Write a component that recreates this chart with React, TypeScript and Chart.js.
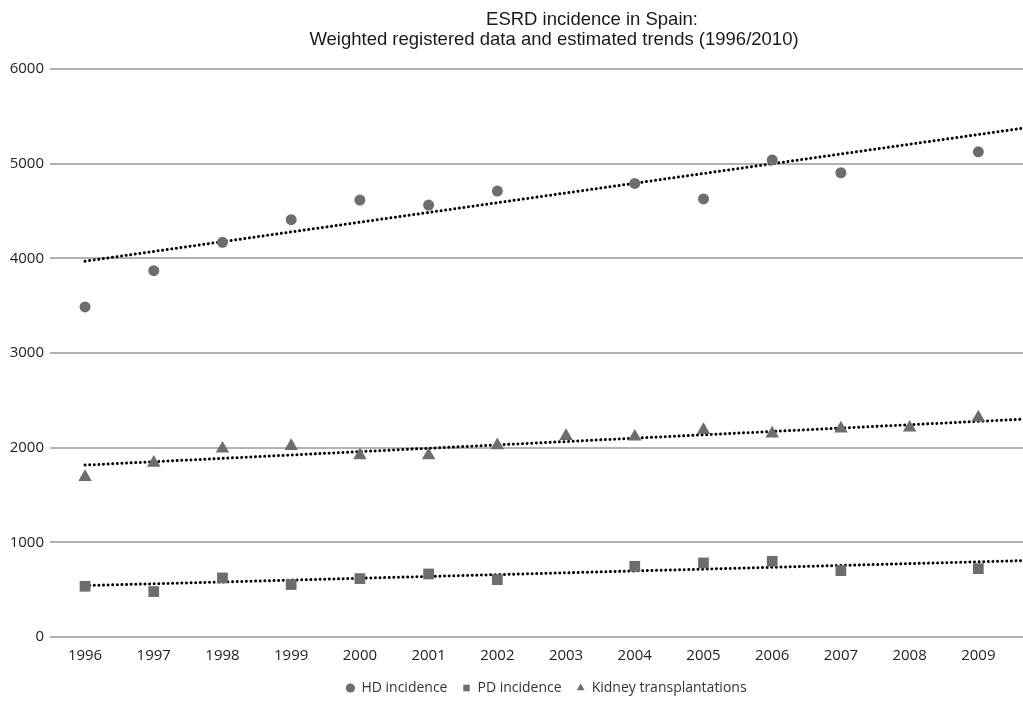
import React, { useEffect, useRef } from "react";
import { Chart, registerables } from "chart.js";

Chart.register(...registerables);

const years = [1996, 1997, 1998, 1999, 2000, 2001, 2002, 2003, 2004, 2005, 2006, 2007, 2008, 2009];
const hdIncidence = [3487, 3870, 4169, 4408, 4615, 4563, 4710, null, 4791, 4627, 5040, 4904, null, 5125];
const pdIncidence = [536, 480, 624, 554, 617, 666, 606, null, 747, 782, 800, 701, null, 722];
const kidneyTx = [1690, 1839, 1989, 2017, 1919, 1919, 2024, 2123, 2116, 2186, 2148, 2201, 2211, 2317];

const trendYears = [1996, 2009.65];
const hdTrend = [3970, 5375];
const kidneyTrend = [1816, 2301];
const pdTrend = [543, 807];

const yTicks = [0, 1000, 2000, 3000, 4000, 5000, 6000];
const titleLines = ["ESRD incidence in Spain:", "Weighted registered data and estimated trends (1996/2010)"];

const MARK = "#6d6d6d";
const TICK_FONT = "'Open Sans', 'Noto Sans', sans-serif";

const toPoints = (xs: number[], ys: (number | null)[]) =>
  xs.map((x, i) => ({ x, y: ys[i] })).filter((p) => p.y !== null) as { x: number; y: number }[];

const titlePlugin = {
  id: "customTitle",
  afterLayout(chart: any) {
    if (chart.legend) {
      chart.legend.left = chart.chartArea.left + 20;
    }
  },
  afterDraw(chart: any) {
    const ctx = chart.ctx;
    ctx.save();
    ctx.fillStyle = "#1a1a1a";
    ctx.textAlign = "center";
    ctx.textBaseline = "alphabetic";
    ctx.font = "18.5px 'Liberation Sans', Arial, sans-serif";
    ctx.fillText(titleLines[0], 592, 25, 212);
    ctx.fillText(titleLines[1], 554, 45, 494);
    ctx.restore();
  },
};

export default function App() {
  const ref = useRef<HTMLCanvasElement | null>(null);

  useEffect(() => {
    document.body.style.margin = "0";
    if (!ref.current) return;
    const trendStyle = {
      showLine: true,
      borderColor: "#000000",
      borderWidth: 3,
      borderDash: [0.01, 4.6],
      borderCapStyle: "round" as const,
      pointRadius: 0,
      pointHoverRadius: 0,
      fill: false,
    };
    const chart = new Chart(ref.current, {
      type: "scatter",
      data: {
        datasets: [
          {
            label: "HD incidence",
            data: toPoints(years, hdIncidence),
            pointStyle: "circle",
            pointRadius: 5.5,
            backgroundColor: MARK,
            borderColor: MARK,
            borderWidth: 0,
          },
          {
            label: "PD incidence",
            data: toPoints(years, pdIncidence),
            pointStyle: "rect",
            pointRadius: 7.6,
            backgroundColor: MARK,
            borderColor: MARK,
            borderWidth: 0,
          },
          {
            label: "Kidney transplantations",
            data: toPoints(years, kidneyTx),
            pointStyle: "triangle",
            pointRadius: 7.8,
            backgroundColor: MARK,
            borderColor: MARK,
            borderWidth: 0,
          },
          { label: "hdTrend", data: toPoints(trendYears, hdTrend), ...trendStyle },
          { label: "kidneyTrend", data: toPoints(trendYears, kidneyTrend), ...trendStyle },
          { label: "pdTrend", data: toPoints(trendYears, pdTrend), ...trendStyle },
        ] as any,
      },
      options: {
        animation: false,
        responsive: false,
        maintainAspectRatio: false,
        layout: { autoPadding: false, padding: { top: 69, right: 0, bottom: 0, left: 0 } },
        plugins: {
          title: { display: false },
          tooltip: { enabled: false },
          legend: {
            display: true,
            position: "bottom",
            fullSize: false,
            maxHeight: 37,
            labels: {
              usePointStyle: true,
              boxWidth: 8,
              boxHeight: 6.5,
              padding: 15,
              color: "#333333",
              font: { family: TICK_FONT, size: 14 },
              filter: (item: any) => !String(item.text).toLowerCase().includes("trend"),
            },
          },
        },
        scales: {
          x: {
            type: "linear",
            min: 1995.49,
            max: 2009.65,
            grid: {
              display: true,
              drawOnChartArea: false,
              drawTicks: true,
              tickLength: 10,
              color: "rgba(0,0,0,0)",
            },
            border: { display: false },
            afterBuildTicks: (scale: any) => {
              scale.ticks = years.map((v) => ({ value: v }));
            },
            afterFit: (scale: any) => {
              scale.paddingLeft = 0;
              scale.paddingRight = 0;
              scale.height = 29;
            },
            ticks: {
              autoSkip: false,
              maxRotation: 0,
              padding: 0,
              color: "#222222",
              font: { family: TICK_FONT, size: 15 },
              callback: (v: any) => String(v),
            },
          },
          y: {
            type: "linear",
            min: 0,
            max: 6000,
            afterBuildTicks: (scale: any) => {
              scale.ticks = yTicks.map((v) => ({ value: v }));
            },
            afterFit: (scale: any) => {
              scale.width = 50;
            },
            grid: { color: "#b2b2b2", lineWidth: 2, drawTicks: false },
            border: { display: false },
            ticks: {
              padding: 6,
              color: "#222222",
              font: { family: TICK_FONT, size: 15 },
              callback: (v: any) => String(v),
            },
          },
        },
      },
      plugins: [titlePlugin],
    });
    return () => chart.destroy();
  }, []);

  return (
    <div style={{ width: 1023, height: 703 }}>
      <canvas ref={ref} width={1023} height={703} style={{ display: "block" }} />
    </div>
  );
}
